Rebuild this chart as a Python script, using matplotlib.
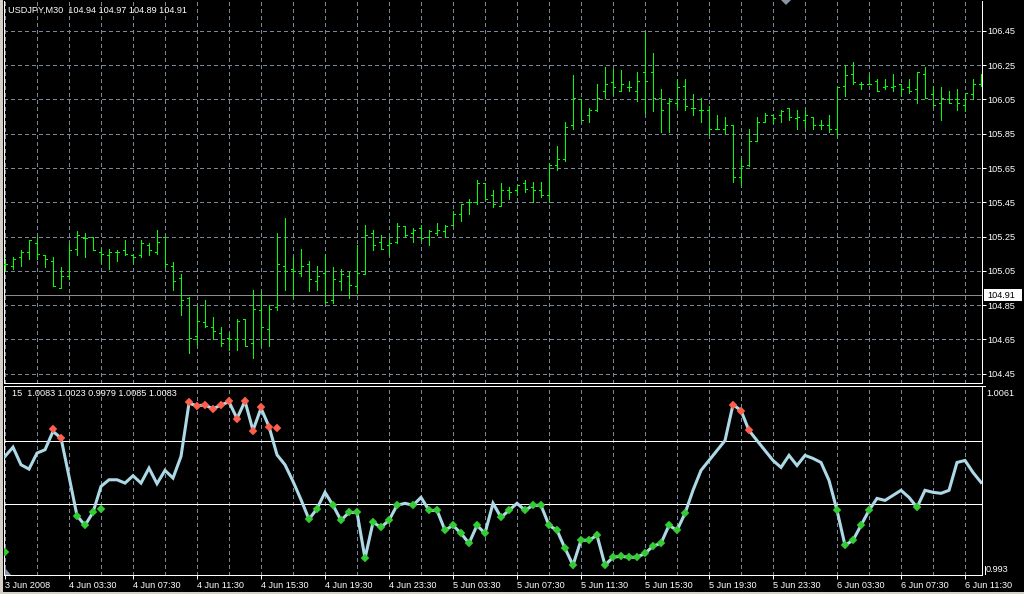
import numpy as np
import matplotlib
matplotlib.use("Agg")
import matplotlib.pyplot as plt
from matplotlib.patches import Polygon, Rectangle

# ---------------- data ----------------
symbol = "USDJPY,M30"
header_ohlc = ["104.94", "104.97", "104.89", "104.91"]
bid_price = 104.91

opens = [105.09, 105.08, 105.13, 105.16, 105.21, 105.14, 105.11, 104.95, 105.02, 105.18,
         105.24, 105.25, 105.16, 105.14, 105.16, 105.17, 105.14, 105.14, 105.20, 105.16,
         105.25, 105.08, 105.01, 104.89, 104.67, 104.75, 104.72, 104.69, 104.66, 104.65,
         104.77, 104.63, 104.82, 104.71, 104.84, 105.08, 105.06, 105.04, 105.09, 104.99,
         105.04, 104.88, 104.99, 105.02, 104.96, 105.03, 105.27, 105.22, 105.20, 105.22,
         105.31, 105.27, 105.30, 105.25, 105.27, 105.28, 105.32, 105.38, 105.45, 105.45,
         105.56, 105.49, 105.43, 105.52, 105.52, 105.56, 105.54, 105.52, 105.49, 105.67,
         105.70, 105.90, 106.05, 105.96, 105.99, 106.10, 106.15, 106.10, 106.12, 106.10,
         106.21, 106.21, 106.06, 106.03, 106.03, 106.13, 106.00, 105.99, 105.99, 105.88,
         105.88, 105.90, 105.60, 105.67, 105.81, 105.92, 105.96, 105.96, 106.00, 105.94,
         105.93, 105.95, 105.90, 105.90, 105.88, 106.13, 106.20, 106.14, 106.14, 106.16,
         106.12, 106.12, 106.14, 106.12, 106.11, 106.20, 106.08, 106.03, 106.05, 106.05,
         106.02, 106.08, 106.14]
highs = [105.12, 105.13, 105.17, 105.23, 105.25, 105.14, 105.13, 105.07, 105.21, 105.28,
         105.27, 105.25, 105.18, 105.18, 105.17, 105.23, 105.15, 105.23, 105.21, 105.29,
         105.25, 105.10, 105.03, 104.90, 104.84, 104.88, 104.78, 104.72, 104.69, 104.77,
         104.77, 104.94, 104.93, 104.85, 105.27, 105.36, 105.13, 105.18, 105.11, 105.08,
         105.15, 105.07, 105.06, 105.05, 105.20, 105.32, 105.29, 105.26, 105.25, 105.33,
         105.31, 105.30, 105.32, 105.29, 105.33, 105.32, 105.40, 105.44, 105.47, 105.58,
         105.56, 105.52, 105.56, 105.54, 105.55, 105.58, 105.57, 105.57, 105.68, 105.78,
         105.92, 106.19, 106.05, 106.00, 106.14, 106.24, 106.23, 106.22, 106.16, 106.21,
         106.44, 106.32, 106.11, 106.06, 106.17, 106.17, 106.08, 106.06, 106.01, 105.96,
         105.95, 105.90, 105.71, 105.88, 105.95, 105.97, 105.96, 105.99, 106.00, 105.99,
         105.99, 105.95, 105.93, 105.96, 106.12, 106.25, 106.27, 106.15, 106.19, 106.17,
         106.17, 106.20, 106.14, 106.17, 106.21, 106.24, 106.13, 106.12, 106.10, 106.11,
         106.09, 106.17, 106.20]
lows = [105.05, 105.06, 105.08, 105.12, 105.12, 105.07, 104.96, 104.95, 105.00, 105.14,
        105.13, 105.17, 105.10, 105.06, 105.11, 105.14, 105.10, 105.13, 105.14, 105.15,
        105.07, 104.94, 104.79, 104.57, 104.62, 104.72, 104.65, 104.61, 104.59, 104.59,
        104.61, 104.54, 104.61, 104.61, 104.82, 104.94, 104.89, 105.02, 104.93, 104.94,
        104.86, 104.86, 104.94, 104.89, 104.92, 105.03, 105.17, 105.18, 105.15, 105.21,
        105.25, 105.22, 105.23, 105.20, 105.26, 105.25, 105.32, 105.34, 105.38, 105.44,
        105.47, 105.42, 105.43, 105.47, 105.49, 105.51, 105.45, 105.48, 105.45, 105.64,
        105.69, 105.88, 105.93, 105.92, 105.98, 106.06, 106.08, 106.10, 106.10, 106.04,
        105.97, 105.98, 105.86, 105.86, 106.00, 105.99, 105.96, 105.92, 105.84, 105.88,
        105.85, 105.57, 105.55, 105.66, 105.81, 105.92, 105.91, 105.92, 105.93, 105.88,
        105.89, 105.88, 105.88, 105.86, 105.83, 106.07, 106.14, 106.11, 106.14, 106.10,
        106.11, 106.10, 106.07, 106.09, 106.03, 106.06, 106.01, 105.93, 106.03, 105.99,
        105.98, 106.05, 106.13]
closes = [105.09, 105.12, 105.16, 105.23, 105.15, 105.12, 104.96, 105.02, 105.17, 105.26,
          105.24, 105.17, 105.15, 105.16, 105.16, 105.15, 105.13, 105.21, 105.17, 105.22,
          105.09, 104.99, 104.88, 104.66, 104.76, 104.73, 104.70, 104.63, 104.65, 104.76,
          104.61, 104.83, 104.72, 104.83, 105.09, 105.05, 105.05, 105.08, 105.00, 105.02,
          104.87, 105.00, 105.03, 104.97, 105.04, 105.26, 105.20, 105.18, 105.21, 105.31,
          105.26, 105.29, 105.24, 105.28, 105.29, 105.31, 105.38, 105.44, 105.45, 105.56,
          105.47, 105.44, 105.52, 105.51, 105.55, 105.53, 105.52, 105.49, 105.67, 105.70,
          105.89, 106.06, 105.93, 105.99, 106.06, 106.14, 106.12, 106.14, 106.12, 106.16,
          106.16, 106.06, 105.99, 106.04, 106.12, 106.01, 106.00, 105.99, 105.88, 105.88,
          105.90, 105.60, 105.66, 105.81, 105.92, 105.96, 105.94, 105.98, 105.95, 105.95,
          105.96, 105.90, 105.90, 105.88, 106.12, 106.19, 106.15, 106.14, 106.14, 106.10,
          106.13, 106.13, 106.11, 106.10, 106.21, 106.06, 106.02, 106.06, 106.03, 106.03,
          106.09, 106.14, 106.16]

price_ticks = [104.45, 104.65, 104.85, 105.05, 105.25, 105.45, 105.65, 105.85, 106.05, 106.25, 106.45]

time_labels = ["3 Jun 2008", "4 Jun 03:30", "4 Jun 07:30", "4 Jun 11:30", "4 Jun 15:30",
               "4 Jun 19:30", "4 Jun 23:30", "5 Jun 03:30", "5 Jun 07:30", "5 Jun 11:30",
               "5 Jun 15:30", "5 Jun 19:30", "5 Jun 23:30", "6 Jun 03:30", "6 Jun 07:30",
               "6 Jun 11:30"]

ind_period = 15
ind_header = ["1.0083", "1.0023", "0.9979", "1.0085", "1.0083"]
level_hi = 1.0023
level_lo = 0.9979
ind_axis_max = 1.0061
ind_axis_min = 0.993

ind_line = [1.00122, 1.00186, 1.00064, 1.00034, 1.00145, 1.00168, 1.00295, 1.00249, 0.99983, 0.99711,
            0.99644, 0.99734, 0.99914, 0.99960, 0.99960, 0.99937, 0.99988, 0.99937, 1.00041, 0.99933,
            1.00025, 0.99972, 1.00122, 1.00491, 1.00472, 1.00479, 1.00451, 1.00479, 1.00500, 1.00385,
            1.00505, 1.00302, 1.00456, 1.00329, 1.00133, 1.00064, 0.99949, 0.99822, 0.99686, 0.99760,
            0.99873, 0.99783, 0.99679, 0.99734, 0.99734, 0.99416, 0.99665, 0.99631, 0.99679, 0.99783,
            0.99797, 0.99783, 0.99838, 0.99748, 0.99748, 0.99610, 0.99644, 0.99589, 0.99520, 0.99644,
            0.99589, 0.99797, 0.99700, 0.99748, 0.99797, 0.99748, 0.99783, 0.99783, 0.99644, 0.99610,
            0.99485, 0.99368, 0.99541, 0.99541, 0.99575, 0.99368, 0.99423, 0.99430, 0.99423, 0.99423,
            0.99450, 0.99500, 0.99520, 0.99644, 0.99610, 0.99727, 0.99887, 1.00025, 1.00094, 1.00163,
            1.00232, 1.00481, 1.00440, 1.00302, 1.00232, 1.00163, 1.00094, 1.00046, 1.00129, 1.00059,
            1.00129, 1.00108, 1.00080, 0.99956, 0.99748, 0.99506, 0.99541, 0.99644, 0.99748, 0.99831,
            0.99817, 0.99852, 0.99887, 0.99838, 0.99769, 0.99887, 0.99873, 0.99866, 0.99887, 1.00080,
            1.00094, 1.00011, 0.99942]

N = None
ind_up_marks = [N, N, N, N, N, N, 1.00310, 1.00249, N, N,
                N, N, N, N, N, N, N, N, N, N,
                N, N, N, 1.00498, 1.00472, 1.00479, 1.00451, 1.00479, 1.00503, 1.00382,
                1.00507, 1.00295, 1.00461, 1.00329, 1.00322, N, N, N, N, N,
                N, N, N, N, N, N, N, N, N, N,
                N, N, N, N, N, N, N, N, N, N,
                N, N, N, N, N, N, N, N, N, N,
                N, N, N, N, N, N, N, N, N, N,
                N, N, N, N, N, N, N, N, N, N,
                N, 1.00481, 1.00440, 1.00302, N, N, N, N, N, N,
                N, N, N, N, N, N, N, N, N, N,
                N, N, N, N, N, N, N, N, N, N,
                N, N, N]
ind_dn_marks = [0.99458, N, N, N, N, N, N, N, N, 0.99711,
                0.99644, 0.99734, 0.99760, N, N, N, N, N, N, N,
                N, N, N, N, N, N, N, N, N, N,
                N, N, N, N, N, N, N, N, 0.99686, 0.99760,
                N, 0.99783, 0.99679, 0.99734, 0.99734, 0.99416, 0.99665, 0.99631, 0.99679, 0.99783,
                N, 0.99783, N, 0.99748, 0.99748, 0.99610, 0.99644, 0.99589, 0.99520, 0.99644,
                0.99589, N, 0.99700, 0.99748, N, 0.99748, 0.99783, 0.99783, 0.99644, 0.99610,
                0.99485, 0.99368, 0.99541, 0.99541, 0.99575, 0.99368, 0.99423, 0.99430, 0.99423, 0.99423,
                0.99450, 0.99500, 0.99520, 0.99644, 0.99610, 0.99727, N, N, N, N,
                N, N, N, N, N, N, N, N, N, N,
                N, N, N, N, 0.99748, 0.99506, 0.99541, 0.99644, 0.99748, N,
                N, N, N, N, 0.99769, N, N, N, N, N,
                N, N, N]

# ---------------- layout ----------------
W, H = 1024, 594
BAR_PX = 8.0
FONT = "Liberation Sans"
FS = 6.6
GRID = "#7a8898"
ONE_PX = 0.72

def rect(x0, y0, x1, y1):
    return [x0 / W, 1 - y1 / H, (x1 - x0) / W, (y1 - y0) / H]

fig = plt.figure(figsize=(W / 100, H / 100), dpi=100, facecolor="black")

n = len(closes)
idx = np.arange(n)
x_left_px, x_right_px = 4, 982
xlim = (-(5 - x_left_px) / BAR_PX, (x_right_px - 5) / BAR_PX)

# main price panel
ax = fig.add_axes(rect(x_left_px, 1, x_right_px, 383), facecolor="black")
px_per_unit = 171.4
y_ref_px, y_ref_val = 373.7, 104.45
ax.set_ylim(y_ref_val - (383 - y_ref_px) / px_per_unit, y_ref_val + (y_ref_px - 1) / px_per_unit)
ax.set_xlim(*xlim)

vgrid = list(range(0, n, 4))
for g in vgrid:
    ax.axvline(g, color=GRID, lw=ONE_PX, ls=(0, (4, 4)), antialiased=False, zorder=1)
for p in price_ticks:
    ax.axhline(p, color=GRID, lw=ONE_PX, ls=(0, (4, 4)), antialiased=False, zorder=1)

ax.axhline(bid_price, color="#8c8c8c", lw=ONE_PX, antialiased=False, zorder=2)

tick_w = 0.25
BAR_C = "#00ff00"
ax.vlines(idx, lows, highs, color=BAR_C, lw=ONE_PX, antialiased=False, zorder=3)
ax.hlines(opens, idx - tick_w, idx, color=BAR_C, lw=ONE_PX, antialiased=False, zorder=3)
ax.hlines(closes, idx, idx + tick_w, color=BAR_C, lw=ONE_PX, antialiased=False, zorder=3)

ax.set_xticks([])
ax.yaxis.tick_right()
ax.set_yticks(price_ticks)
ax.set_yticklabels([f"{p:.2f}" for p in price_ticks], fontfamily=FONT)
ax.tick_params(axis="y", colors="white", labelcolor="white", labelsize=FS, length=3,
               width=ONE_PX, pad=1.2, direction="out")
for s in ["left", "right", "bottom"]:
    ax.spines[s].set_color("white")
    ax.spines[s].set_linewidth(ONE_PX)
ax.spines["top"].set_visible(False)

fig.text(8 / W, 1 - 10 / H, symbol + "  " + " ".join(header_ohlc),
         color="white", fontsize=FS, fontfamily=FONT, ha="left", va="center")

# bid price box
fig.patches.append(Rectangle((984 / W, 1 - 301 / H), 38 / W, 12 / H, transform=fig.transFigure,
                             facecolor="white", edgecolor="none", zorder=5))
fig.text(987 / W, 1 - 295.5 / H, f"{bid_price:.2f}", color="black", fontsize=FS,
         fontfamily=FONT, ha="left", va="center", zorder=6)

# indicator panel
ax2 = fig.add_axes(rect(x_left_px, 386, x_right_px, 575), facecolor="black")
ax2.set_xlim(*xlim)
ax2.set_ylim(ind_axis_min, ind_axis_max)
for g in vgrid:
    ax2.axvline(g, color=GRID, lw=ONE_PX, ls=(0, (4, 4)), antialiased=False, zorder=1)
ax2.axhline(level_hi, color="white", lw=ONE_PX, antialiased=False, zorder=2)
ax2.axhline(level_lo, color="white", lw=ONE_PX, antialiased=False, zorder=2)

ax2.plot(idx, ind_line, color="#add8e6", lw=2.2, zorder=3, solid_joinstyle="miter")
up = np.array([np.nan if v is None else v for v in ind_up_marks], dtype=float)
dn = np.array([np.nan if v is None else v for v in ind_dn_marks], dtype=float)
ax2.plot(idx, up, ls="none", marker="D", ms=4.4, color="#ff5f4a", mec="#ff5f4a", mew=0.3, zorder=4)
ax2.plot(idx, dn, ls="none", marker="D", ms=4.4, color="#32cd32", mec="#32cd32", mew=0.3, zorder=4)

ax2.set_yticks([])
label_pos = list(range(0, n, 8))
ax2.set_xticks(label_pos)
ax2.set_xticklabels(time_labels[:len(label_pos)], fontfamily=FONT)
for lbl in ax2.get_xticklabels():
    lbl.set_horizontalalignment("left")
ax2.tick_params(axis="x", colors="white", labelcolor="white", labelsize=FS, length=3,
                width=ONE_PX, pad=1.5, direction="out")
for s in ["left", "right", "bottom", "top"]:
    ax2.spines[s].set_color("white")
    ax2.spines[s].set_linewidth(ONE_PX)

fig.text(12 / W, 1 - 394 / H, f"{ind_period}  " + " ".join(ind_header),
         color="white", fontsize=FS, fontfamily=FONT, ha="left", va="center")

# indicator scale labels
fig.text(986 / W, 1 - 393 / H, f"{ind_axis_max:.4f}", color="white", fontsize=FS,
         fontfamily=FONT, ha="left", va="center")
fig.text(986 / W, 1 - 569 / H, f"{ind_axis_min:.3f}", color="white", fontsize=FS,
         fontfamily=FONT, ha="left", va="center")
fig.lines.append(plt.Line2D([982 / W, 985 / W], [1 - 386 / H, 1 - 386 / H], color="white",
                            lw=ONE_PX, transform=fig.transFigure))
fig.lines.append(plt.Line2D([985 / W, 985 / W], [1 - 566 / H, 1 - 574 / H], color="white",
                            lw=ONE_PX, transform=fig.transFigure))

# window decorations
def px_poly(pts, color):
    P = Polygon([(x / W, 1 - y / H) for x, y in pts], closed=True, transform=fig.transFigure,
                facecolor=color, edgecolor="none")
    fig.patches.append(P)

px_poly([(0, 0), (2.5, 0), (2.5, 594), (0, 594)], "#d4d0c8")
px_poly([(0, 591.5), (1024, 591.5), (1024, 594), (0, 594)], "#d4d0c8")
px_poly([(781, 0), (791, 0), (786, 5)], "#8a95a5")
px_poly([(5, 568), (5, 574.5), (11, 574.5)], "#8a95a5")

fig.savefig("out.png", dpi=100, facecolor="black")
